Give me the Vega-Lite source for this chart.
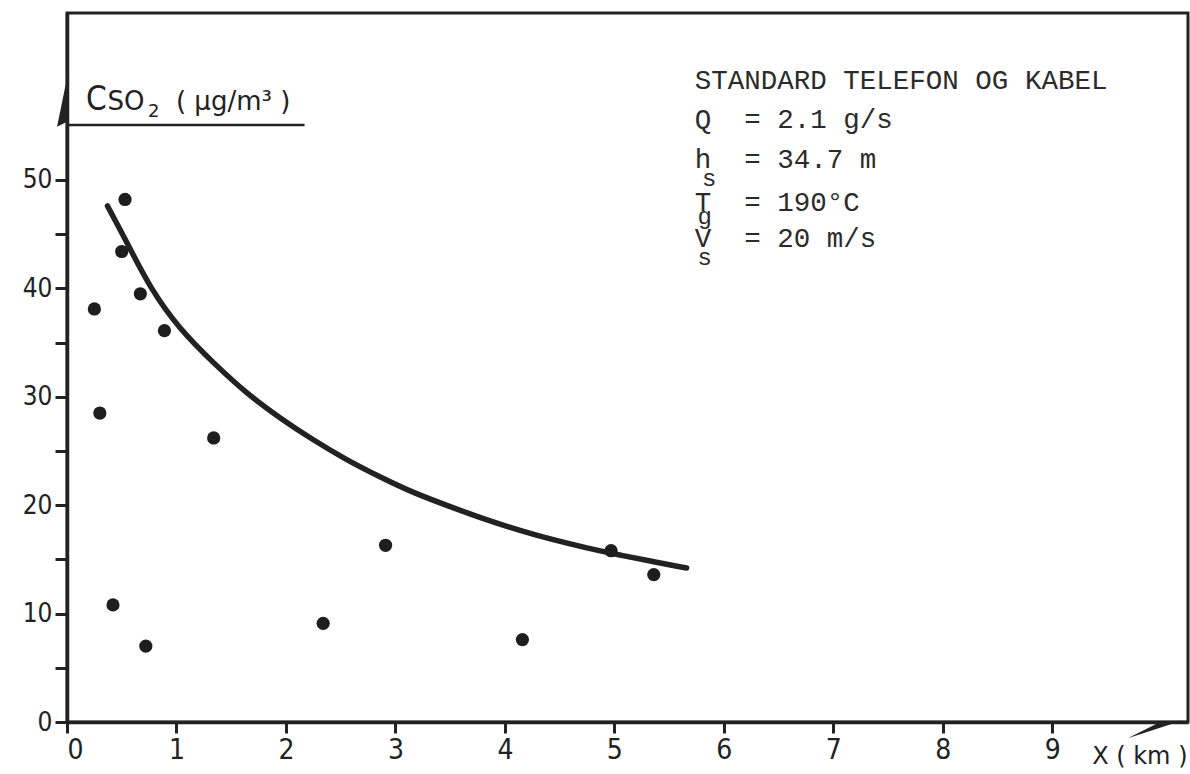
{
  "$schema": "https://vega.github.io/schema/vega-lite/v6.json",
  "width": 1121,
  "height": 709,
  "autosize": {"type": "none"},
  "padding": {"left": 67, "top": 13, "right": 2, "bottom": 52},
  "background": "white",
  "datasets": {
    "pts": [
      {"x": 0.25, "y": 38.1}, {"x": 0.30, "y": 28.5}, {"x": 0.42, "y": 10.8},
      {"x": 0.50, "y": 43.4}, {"x": 0.53, "y": 48.2}, {"x": 0.67, "y": 39.5},
      {"x": 0.72, "y": 7.0}, {"x": 0.89, "y": 36.1}, {"x": 1.34, "y": 26.2},
      {"x": 2.34, "y": 9.1}, {"x": 2.91, "y": 16.3}, {"x": 4.16, "y": 7.6},
      {"x": 4.97, "y": 15.8}, {"x": 5.36, "y": 13.6}
    ],
    "curve": [
      {"x": 0.37, "y": 47.6}, {"x": 0.55, "y": 44.2}, {"x": 0.76, "y": 40.0},
      {"x": 1.03, "y": 36.2}, {"x": 1.34, "y": 33.1}, {"x": 1.64, "y": 30.3},
      {"x": 1.95, "y": 28.0}, {"x": 2.25, "y": 26.0}, {"x": 2.55, "y": 24.2},
      {"x": 2.86, "y": 22.6}, {"x": 3.16, "y": 21.15}, {"x": 3.53, "y": 19.75},
      {"x": 3.83, "y": 18.65}, {"x": 4.14, "y": 17.65}, {"x": 4.44, "y": 16.8},
      {"x": 4.75, "y": 16.05}, {"x": 5.05, "y": 15.4}, {"x": 5.35, "y": 14.8},
      {"x": 5.66, "y": 14.2}
    ],
    "info": [
      {"x": 5.735, "y": 58.4, "t": "STANDARD TELEFON OG KABEL"},
      {"x": 5.735, "y": 54.8, "t": "Q\u00a0\u00a0= 2.1 g/s"},
      {"x": 5.735, "y": 51.1, "t": "h\u00a0\u00a0= 34.7 m"},
      {"x": 5.735, "y": 47.1, "t": "T\u00a0\u00a0= 190°C"},
      {"x": 5.735, "y": 43.8, "t": "V\u00a0\u00a0= 20 m/s"}
    ],
    "subs": [
      {"x": 5.80, "y": 49.4, "t": "s"},
      {"x": 5.76, "y": 45.95, "t": "g"},
      {"x": 5.76, "y": 42.2, "t": "s"}
    ]
  },
  "config": {
    "view": {"stroke": "#222", "strokeWidth": 3},
    "axis": {
      "grid": false,
      "domainColor": "#222",
      "domainWidth": 3.5,
      "tickColor": "#222",
      "tickWidth": 3,
      "labelColor": "#222",
      "labelFont": "DejaVu Sans Condensed, DejaVu Sans",
      "titleFont": "DejaVu Sans",
      "titleColor": "#222",
      "titleFontWeight": "normal"
    }
  },
  "layer": [
    {
      "data": {"name": "curve"},
      "mark": {"type": "line", "color": "#222", "strokeWidth": 5.5, "interpolate": "basis", "strokeCap": "round"},
      "encoding": {
        "x": {
          "field": "x", "type": "quantitative",
          "scale": {"domain": [0, 10.24], "nice": false, "zero": false},
          "axis": {
            "values": [0, 1, 2, 3, 4, 5, 6, 7, 8, 9],
            "format": "d",
            "tickSize": 11,
            "labelPadding": 3,
            "labelFontSize": 28,
            "title": "X ( km )",
            "titleFontSize": 24,
            "titleAlign": "right",
            "titleBaseline": "alphabetic",
            "titleX": 1120,
            "titleY": 41
          }
        },
        "y": {
          "field": "y", "type": "quantitative",
          "scale": {"domain": [0, 65.4], "nice": false, "zero": false},
          "axis": {
            "values": [0, 5, 10, 15, 20, 25, 30, 35, 40, 45, 50],
            "format": "d",
            "labelExpr": "datum.value % 10 === 0 ? datum.label : ''",
            "tickSize": 12,
            "labelPadding": 3,
            "labelFontSize": 26,
            "title": null
          }
        }
      }
    },
    {
      "data": {"name": "pts"},
      "mark": {"type": "point", "shape": "circle", "filled": true, "color": "#1e1e1e", "size": 175, "opacity": 1},
      "encoding": {
        "x": {"field": "x", "type": "quantitative"},
        "y": {"field": "y", "type": "quantitative"}
      }
    },
    {
      "data": {"name": "info"},
      "mark": {"type": "text", "font": "Liberation Mono", "fontSize": 27.5, "align": "left", "baseline": "alphabetic", "color": "#2b2b2b"},
      "encoding": {
        "x": {"field": "x", "type": "quantitative"},
        "y": {"field": "y", "type": "quantitative"},
        "text": {"field": "t"}
      }
    },
    {
      "data": {"name": "subs"},
      "mark": {"type": "text", "font": "Liberation Mono", "fontSize": 24, "align": "left", "baseline": "alphabetic", "color": "#2b2b2b"},
      "encoding": {
        "x": {"field": "x", "type": "quantitative"},
        "y": {"field": "y", "type": "quantitative"},
        "text": {"field": "t"}
      }
    },
    {
      "data": {"values": [{"x": 0.174, "y": 56.46, "t": "C"}]},
      "mark": {"type": "text", "font": "DejaVu Sans Condensed, DejaVu Sans", "fontSize": 33, "align": "left", "baseline": "alphabetic", "color": "#222"},
      "encoding": {
        "x": {"field": "x", "type": "quantitative"},
        "y": {"field": "y", "type": "quantitative"},
        "text": {"field": "t"}
      }
    },
    {
      "data": {"values": [{"x": 0.37, "y": 56.46, "t": "SO"}, {"x": 0.995, "y": 56.46, "t": "( µg/m³ )"}]},
      "mark": {"type": "text", "font": "DejaVu Sans", "fontSize": 26, "align": "left", "baseline": "alphabetic", "color": "#222"},
      "encoding": {
        "x": {"field": "x", "type": "quantitative"},
        "y": {"field": "y", "type": "quantitative"},
        "text": {"field": "t"}
      }
    },
    {
      "data": {"values": [{"x": 0.74, "y": 55.81, "t": "2"}]},
      "mark": {"type": "text", "font": "DejaVu Sans", "fontSize": 18, "align": "left", "baseline": "alphabetic", "color": "#222"},
      "encoding": {
        "x": {"field": "x", "type": "quantitative"},
        "y": {"field": "y", "type": "quantitative"},
        "text": {"field": "t"}
      }
    },
    {
      "data": {"values": [{"x": 0, "x2": 2.17, "y": 55.07}]},
      "mark": {"type": "rule", "color": "#222", "strokeWidth": 2.5},
      "encoding": {
        "x": {"field": "x", "type": "quantitative"},
        "x2": {"field": "x2"},
        "y": {"field": "y", "type": "quantitative"}
      }
    },
    {
      "data": {"values": [{"x": 9.936, "y": 0}]},
      "mark": {"type": "point", "shape": "M-1,0.6L1,-0.05L0.2,0Z", "filled": true, "color": "#222", "size": 2900, "opacity": 1, "strokeWidth": 0},
      "encoding": {
        "x": {"field": "x", "type": "quantitative"},
        "y": {"field": "y", "type": "quantitative"}
      }
    },
    {
      "data": {"values": [{"x": 0.01, "y": 57.4}]},
      "mark": {"type": "point", "shape": "M0,-1L-0.41,1L0,0.8Z", "filled": true, "color": "#222", "size": 2900, "opacity": 1, "strokeWidth": 0},
      "encoding": {
        "x": {"field": "x", "type": "quantitative"},
        "y": {"field": "y", "type": "quantitative"}
      }
    }
  ]
}
